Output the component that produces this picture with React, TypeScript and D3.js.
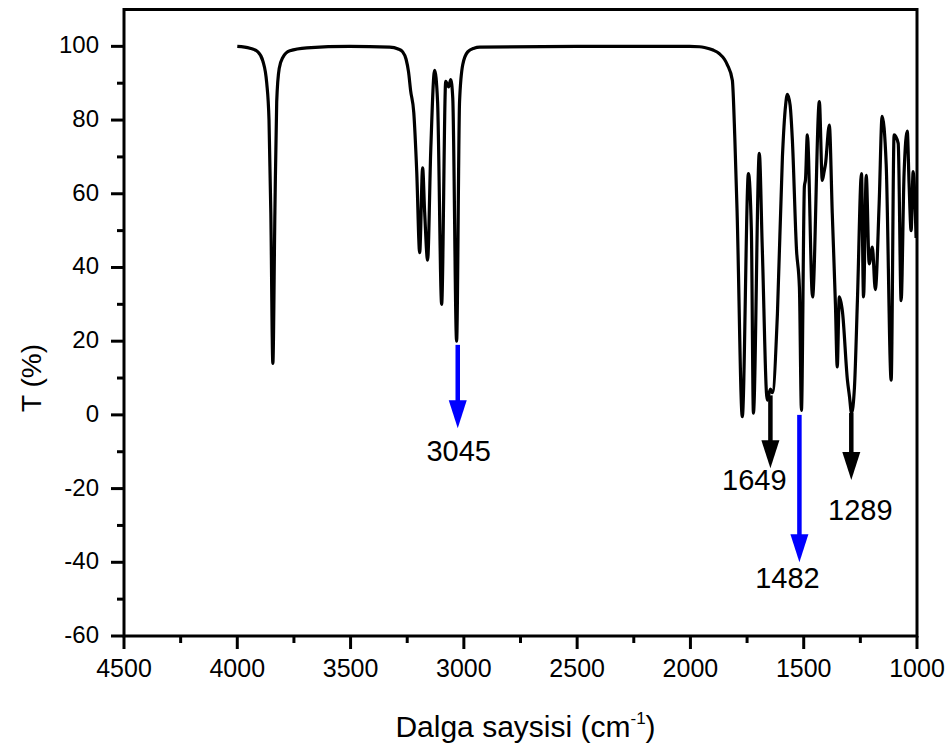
import React, { useEffect, useRef } from 'react';
import * as d3 from 'd3';

// FTIR spectrum (wavenumber cm-1, transmittance %)
const wavenumbers = [
  4000, 3944, 3909, 3887, 3870, 3860, 3852, 3843, 3834, 3826, 3815, 3799, 3768, 3693,
  3504, 3327, 3290, 3270, 3255, 3244, 3235, 3221, 3208, 3195, 3182, 3173, 3160, 3146,
  3129, 3116, 3098, 3080, 3067, 3058, 3049, 3032, 3019, 3005, 2983, 2955, 2930,
  2500, 2004, 1960, 1938, 1900, 1872, 1850, 1837, 1815, 1804, 1794, 1771, 1744, 1731,
  1722, 1696, 1683, 1661, 1647, 1638, 1616, 1594, 1580, 1572, 1560, 1550, 1532, 1519,
  1510, 1497, 1492, 1484, 1461, 1431, 1418, 1410, 1404, 1387, 1374, 1360, 1352, 1343,
  1329, 1307, 1298, 1289, 1276, 1263, 1245, 1236, 1224, 1211, 1197, 1184, 1167, 1154,
  1136, 1114, 1101, 1083, 1070, 1057, 1043, 1035, 1026, 1017, 1004
];
const transmittance = [
  100, 99.5, 98.5, 96, 90, 80, 55, 14, 55, 85, 94, 97, 98.8, 99.6,
  100, 99.8, 99.3, 98.5, 96.5, 93, 88, 82, 66, 44, 67, 55, 42, 72,
  93.5, 85, 30, 90.5, 89, 91, 86, 20, 85, 95, 98.5, 99.5, 99.8,
  100, 100, 99.9, 99.7, 99, 98, 96.5, 95, 90.8, 75, 55, -0.5, 65.5, 50,
  0.5, 71, 45.5, 4, 7, 6, 27.5, 70, 84, 87, 84, 74.5, 45, 34.6,
  1.2, 62, 64, 76, 32, 85, 63.6, 66, 68, 78.6, 54.7, 30, 13, 32,
  28, 9.4, 5, 0.5, 7.5, 31, 65.5, 32, 65, 41, 45.5, 34, 57.4, 81,
  68, 9.4, 76, 73.7, 31, 65.5, 77, 62.8, 50, 66, 48
];

// peak annotations
const arrowWave = [3027, 1647, 1519, 1290];
const arrowFrom = [19, 5.3, 0, 0.5];
const arrowTo = [-3.6, -14.5, -40, -17.7];
const arrowColor = ['#0000ff', '#000000', '#0000ff', '#000000'];
const labelText = ['3045', '1649', '1482', '1289'];
const labelWave = [3023, 1718, 1572, 1250];
const labelT = [-12.6, -20.5, -47, -28.6];

const xTicks = [4500, 4000, 3500, 3000, 2500, 2000, 1500, 1000];
const yTicks = [-60, -40, -20, 0, 20, 40, 60, 80, 100];

const W = 950, H = 749;
const left = 124, right = 917, top = 9.5, bottom = 636;
const font = '"Liberation Sans", Arial, sans-serif';

export default function App() {
  const ref = useRef<SVGSVGElement>(null);

  useEffect(() => {
    const svg = d3.select(ref.current);
    svg.selectAll('*').remove();

    const x = d3.scaleLinear().domain([4500, 1000]).range([left, right]);
    const y = d3.scaleLinear().domain([-60, 110]).range([bottom, top]);

    // minor ticks
    const xMinor = d3.range(4500, 999, -250);
    const yMinor = d3.range(-60, 101, 10);

    const g = svg.append('g');

    g.selectAll('.xminor').data(xMinor).enter().append('line')
      .attr('x1', d => x(d)).attr('x2', d => x(d))
      .attr('y1', bottom).attr('y2', d => bottom + (xTicks.includes(d) ? 13 : 7))
      .attr('stroke', '#000').attr('stroke-width', 3);

    g.selectAll('.yminor').data(yMinor).enter().append('line')
      .attr('y1', d => y(d)).attr('y2', d => y(d))
      .attr('x1', left).attr('x2', d => left - (yTicks.includes(d) ? 13 : 7))
      .attr('stroke', '#000').attr('stroke-width', 3);

    g.selectAll('.xlab').data(xTicks).enter().append('text')
      .attr('x', d => x(d)).attr('y', 677)
      .attr('text-anchor', 'middle')
      .attr('font-family', font).attr('font-size', 25)
      .text(d => d);

    g.selectAll('.ylab').data(yTicks).enter().append('text')
      .attr('x', 99).attr('y', d => y(d) + 7)
      .attr('text-anchor', 'end')
      .attr('font-family', font).attr('font-size', 24)
      .text(d => d);

    // spectrum
    const pts = wavenumbers.map((w, i) => [w, transmittance[i]] as [number, number]);
    const line = d3.line<[number, number]>()
      .x(d => x(d[0])).y(d => y(d[1]))
      .curve(d3.curveMonotoneX);

    g.append('path')
      .attr('d', line(pts))
      .attr('fill', 'none')
      .attr('stroke', '#000')
      .attr('stroke-width', 3.2)
      .attr('stroke-linejoin', 'round');

    // arrows
    arrowWave.forEach((w, i) => {
      const ax = x(w);
      const y0 = y(arrowFrom[i]);
      const y1 = y(arrowTo[i]);
      const head = 28;
      g.append('line')
        .attr('x1', ax).attr('x2', ax)
        .attr('y1', y0).attr('y2', y1 - head + 2)
        .attr('stroke', arrowColor[i]).attr('stroke-width', 4.5);
      g.append('path')
        .attr('d', `M${ax - 9},${y1 - head}L${ax + 9},${y1 - head}L${ax},${y1}Z`)
        .attr('fill', arrowColor[i]);
      g.append('text')
        .attr('x', x(labelWave[i])).attr('y', y(labelT[i]))
        .attr('text-anchor', 'middle')
        .attr('font-family', font).attr('font-size', 29)
        .text(labelText[i]);
    });

    // frame
    g.append('rect')
      .attr('x', left).attr('y', top)
      .attr('width', right - left).attr('height', bottom - top)
      .attr('fill', 'none').attr('stroke', '#000').attr('stroke-width', 3);

    // axis titles
    const xt = g.append('text')
      .attr('x', (left + right) / 2 + 5).attr('y', 737)
      .attr('text-anchor', 'middle')
      .attr('font-family', font).attr('font-size', 30);
    xt.append('tspan').text('Dalga saysisi (cm');
    xt.append('tspan').attr('dy', -13).attr('font-size', 17).text('-1');
    xt.append('tspan').attr('dy', 13).text(')');

    g.append('text')
      .attr('transform', `translate(41,378) rotate(-90)`)
      .attr('text-anchor', 'middle')
      .attr('font-family', font).attr('font-size', 28)
      .text('T (%)');
  }, []);

  return (
    <svg ref={ref} width={W} height={H}
      style={{ position: 'absolute', left: 0, top: 0, background: '#fff' }} />
  );
}
